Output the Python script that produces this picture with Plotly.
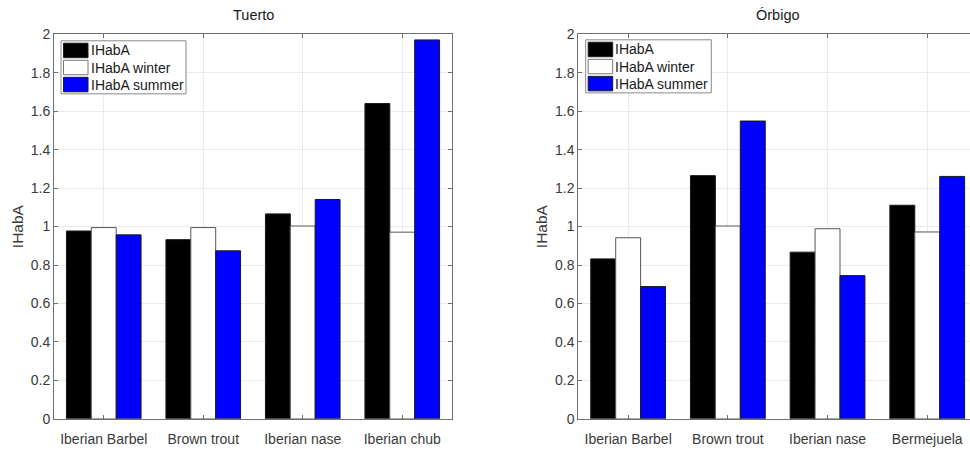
import plotly.graph_objects as go
from plotly.subplots import make_subplots

# Habitat availability index per species, by river
series_names = ["IHabA", "IHabA winter", "IHabA summer"]

tuerto_species = ["Iberian Barbel", "Brown trout", "Iberian nase", "Iberian chub"]
tuerto_ihaba = [0.977, 0.932, 1.066, 1.640]
tuerto_winter = [0.995, 0.995, 1.003, 0.971]
tuerto_summer = [0.957, 0.874, 1.141, 1.971]

orbigo_species = ["Iberian Barbel", "Brown trout", "Iberian nase", "Bermejuela"]
orbigo_ihaba = [0.832, 1.265, 0.867, 1.111]
orbigo_winter = [0.942, 1.003, 0.989, 0.972]
orbigo_summer = [0.688, 1.549, 0.745, 1.261]

y_ticks = [0, 0.2, 0.4, 0.6, 0.8, 1, 1.2, 1.4, 1.6, 1.8, 2]

fill_colors = ["#000000", "#ffffff", "#0000ff"]
edge_colors = ["#1a1a1a", "#555555", "#1a1a1a"]

text_color = "#3a3a3a"
axis_color = "#707070"
grid_color = "#ebebeb"
font_family = "Liberation Sans, Arial, Helvetica, sans-serif"

W, H = 970, 450
PLOT_TOP, PLOT_BOTTOM = 27.3, 426.0
LEFT_X = (54, 452)
RIGHT_X = (578.3, 970)

fig = make_subplots(rows=1, cols=2)

panels = [
    (tuerto_species, [tuerto_ihaba, tuerto_winter, tuerto_summer], 1),
    (orbigo_species, [orbigo_ihaba, orbigo_winter, orbigo_summer], 2),
]

for species, values, col in panels:
    positions = list(range(1, len(species) + 1))
    for name, vals, fc, ec in zip(series_names, values, fill_colors, edge_colors):
        fig.add_trace(
            go.Bar(
                x=positions,
                y=vals,
                name=name,
                marker=dict(color=fc, line=dict(color=ec, width=1)),
                showlegend=False,
            ),
            row=1, col=col,
        )

axis_common = dict(
    showline=True,
    linecolor=axis_color,
    linewidth=1,
    ticks="inside",
    ticklen=4,
    tickcolor=axis_color,
    showgrid=True,
    gridcolor=grid_color,
    gridwidth=1,
    zeroline=False,
    tickfont=dict(size=14, color=text_color),
)

y_domain = [1 - PLOT_BOTTOM / H, 1 - PLOT_TOP / H]
ytitle = dict(text="IHabA", font=dict(size=15.5, color=text_color), standoff=3)

# Left panel: full box
fig.update_xaxes(
    domain=[LEFT_X[0] / W, LEFT_X[1] / W], range=[0.5, 4.5],
    tickvals=[1, 2, 3, 4], ticktext=tuerto_species, ticklabelstandoff=7,
    mirror="ticks", **axis_common, row=1, col=1,
)
fig.update_yaxes(
    domain=y_domain, range=[0, 2], tickvals=y_ticks,
    mirror="ticks", **axis_common, row=1, col=1, title=ytitle,
)

# Right panel: runs off the right edge of the page
unit = 99.7
fig.update_xaxes(
    domain=[RIGHT_X[0] / W, 1.0], range=[0.5, 0.5 + (RIGHT_X[1] - RIGHT_X[0]) / unit],
    tickvals=[1, 2, 3, 4], ticktext=orbigo_species, ticklabelstandoff=7,
    mirror="ticks", **axis_common, row=1, col=2,
)
fig.update_yaxes(
    domain=y_domain, range=[0, 2], tickvals=y_ticks,
    mirror=False, **axis_common, row=1, col=2, title=ytitle,
)

# Legend boxes drawn in the upper-left corner of each panel
shapes = []
annotations = []
legend_boxes = [(61, 34, 186, 89), (585.7, 33, 711.3, 88)]
for (x0, y0, x1, y1) in legend_boxes:
    shapes.append(dict(type="rect", xref="paper", yref="paper",
                       x0=x0 / W, x1=x1 / W, y0=1 - y0 / H, y1=1 - y1 / H,
                       line=dict(color="#8a8a8a", width=1), fillcolor="#ffffff", layer="above"))
    sx0, sx1 = x0 + 2.5, x0 + 27
    for i, (name, fc, ec) in enumerate(zip(series_names, fill_colors, edge_colors)):
        ry0 = y0 + 2.5 + i * 17.7
        ry1 = ry0 + 15
        shapes.append(dict(type="rect", xref="paper", yref="paper",
                           x0=sx0 / W, x1=sx1 / W, y0=1 - ry0 / H, y1=1 - ry1 / H,
                           line=dict(color="#777777" if fc == "#ffffff" else ec, width=1),
                           fillcolor=fc, layer="above"))
        annotations.append(dict(text=name, x=(sx1 + 0.5) / W, y=1 - (ry0 + ry1) / 2 / H,
                                xref="paper", yref="paper", xanchor="left", yanchor="middle",
                                showarrow=False,
                                font=dict(size=14, color="#1a1a1a", family=font_family)))

titles = [("Tuerto", (LEFT_X[0] + LEFT_X[1]) / 2), ("Órbigo", RIGHT_X[0] + 200)]
for text, cx in titles:
    annotations.append(dict(text=text, x=cx / W, y=1 - PLOT_TOP / H, xref="paper", yref="paper",
                            xanchor="center", yanchor="bottom", yshift=9, showarrow=False,
                            font=dict(size=14.5, color="#1a1a1a")))

fig.update_layout(
    width=W,
    height=H,
    margin=dict(l=0, r=0, t=0, b=0),
    paper_bgcolor="#ffffff",
    plot_bgcolor="#ffffff",
    font=dict(family=font_family, color=text_color),
    barmode="group",
    bargap=0.25,
    bargroupgap=0,
    showlegend=False,
    shapes=shapes,
    annotations=annotations,
)

fig.write_html("out.html")
